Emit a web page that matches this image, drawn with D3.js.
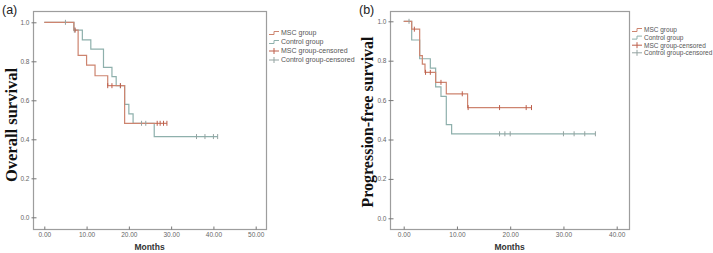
<!DOCTYPE html>
<html>
<head>
<meta charset="utf-8">
<script src="https://cdn.jsdelivr.net/npm/d3@7"></script>
<style>
  body { margin: 0; background: #fff; }
  svg { display: block; }
</style>
</head>
<body>
<div class="canvas"></div>
<script>
// tick labels
const survTicks = [0, 0.2, 0.4, 0.6, 0.8, 1.0];
const osMonthTicks = [0, 10, 20, 30, 40, 50];
const pfsMonthTicks = [0, 10, 20, 30, 40];
const legendLabels = ['MSC group', 'Control group', 'MSC group-censored', 'Control group-censored'];

// (a) overall survival, step times + survival after each step
const osMscTimes = [0, 7, 8, 10, 12, 15, 19];
const osMscSurv = [1, 0.96, 0.83, 0.78, 0.726, 0.675, 0.482];
const osMscEnd = 29;
const osMscCensor = [7.3, 15, 16, 18, 26.7, 27.4, 28.2, 29];

const osCtrlTimes = [0, 7, 9, 11, 14, 16, 17, 19, 20, 21, 26];
const osCtrlSurv = [1, 0.96, 0.91, 0.862, 0.769, 0.721, 0.675, 0.579, 0.53, 0.482, 0.414];
const osCtrlEnd = 41;
const osCtrlCensor = [5, 7.1, 18, 23, 24, 36, 38, 40, 41];

// (b) progression-free survival
const pfsMscTimes = [0, 1.5, 3, 3.5, 4, 6, 8, 12];
const pfsMscSurv = [1, 0.96, 0.826, 0.783, 0.741, 0.69, 0.632, 0.562];
const pfsMscEnd = 24;
const pfsMscCensor = [2, 4.1, 5, 7, 11, 12.1, 18, 23, 24];

const pfsCtrlTimes = [0, 1.5, 3, 5, 6, 7, 8, 9];
const pfsCtrlSurv = [1, 0.905, 0.81, 0.762, 0.667, 0.619, 0.476, 0.429];
const pfsCtrlEnd = 36;
const pfsCtrlCensor = [1, 18, 19, 20, 30, 32, 34, 36];

const mscColor = '#cd846f';
const ctrlColor = '#8eb0ac';
const mscMark = '#bd5e4b';
const ctrlMark = '#94a3a1';
const frameColor = '#9d9d9d';

const svg = d3.select('.canvas')
    .append('svg')
    .attr('width', 713)
    .attr('height', 253);

// survival value at time t for a step curve
const survAt = (times, surv, t) => {
    let s = surv[0];
    times.forEach((tt, i) => { if (tt <= t) s = surv[i]; });
    return s;
};

const drawPanel = p => {
    const g = svg.append('g');

    const x = d3.scaleLinear().domain([0, p.xMax]).range([p.x0, p.x1]);
    const y = d3.scaleLinear().domain([0, 1]).range([p.y0, p.y1]);

    // frame
    g.append('rect')
        .attr('x', p.left + 0.5).attr('y', p.top + 0.5)
        .attr('width', p.right - p.left).attr('height', p.bottom - p.top)
        .attr('fill', 'none').attr('stroke', frameColor).attr('stroke-width', 1.2);

    // axes
    const yAxis = d3.axisLeft(y).tickValues(survTicks).tickFormat(d3.format('.1f'))
        .tickSize(3).tickSizeOuter(0).tickPadding(1);
    const xAxis = d3.axisBottom(x).tickValues(p.xTicks).tickFormat(d3.format('.2f'))
        .tickSize(-3).tickSizeOuter(0).tickPadding(3);

    const yAxisGroup = g.append('g').attr('transform', `translate(${p.left + 0.5}, 0)`).call(yAxis);
    const xAxisGroup = g.append('g').attr('transform', `translate(0, ${p.bottom + 0.5})`).call(xAxis);

    [yAxisGroup, xAxisGroup].forEach(a => {
        a.select('.domain').remove();
        a.selectAll('line').attr('stroke', '#777');
        a.selectAll('text').attr('fill', '#666').style('font-family', 'Arial, "Liberation Sans", sans-serif')
            .style('font-size', '6.5px');
    });
    yAxisGroup.selectAll('line').attr('x2', 3).attr('x1', -2);

    // step curves
    const stepLine = d3.line().x(d => x(d[0])).y(d => y(d[1])).curve(d3.curveStepAfter);
    p.curves.forEach(c => {
        const pts = c.times.map((t, i) => [t, c.surv[i]]);
        pts.push([c.end, c.surv[c.surv.length - 1]]);
        g.append('path')
            .attr('d', stepLine(pts))
            .attr('fill', 'none')
            .attr('stroke', c.color)
            .attr('stroke-width', 1.2);
    });

    // censor marks
    p.curves.forEach(c => {
        g.selectAll(null)
            .data(c.censor)
            .enter()
            .append('line')
            .attr('x1', d => x(d)).attr('x2', d => x(d))
            .attr('y1', d => y(survAt(c.times, c.surv, d)) - 2.5)
            .attr('y2', d => y(survAt(c.times, c.surv, d)) + 2.5)
            .attr('stroke', c.mark)
            .attr('stroke-width', 1);
    });

    // panel letter
    g.append('text')
        .attr('x', p.letterX).attr('y', 14)
        .style('font-family', 'Arial, "Liberation Sans", sans-serif')
        .style('font-size', '12.5px')
        .attr('fill', '#222')
        .text(p.letter);

    // y title
    g.append('text')
        .attr('transform', `translate(${p.titleX}, ${p.titleY}) rotate(-90)`)
        .attr('text-anchor', 'middle')
        .style('font-family', '"Liberation Serif", "Times New Roman", serif')
        .style('font-weight', 'bold')
        .style('font-size', p.titleFont)
        .attr('fill', '#111')
        .text(p.title);

    // x title
    g.append('text')
        .attr('x', (p.left + p.right) / 2).attr('y', 250)
        .attr('text-anchor', 'middle')
        .style('font-family', 'Arial, "Liberation Sans", sans-serif')
        .style('font-weight', 'bold')
        .style('font-size', '8.5px')
        .attr('fill', '#333')
        .text('Months');

    // legend
    const lg = g.append('g');
    const colors = [mscColor, ctrlColor, mscMark, ctrlMark];
    legendLabels.forEach((lab, i) => {
        const ly = p.legY + i * p.legGap;
        const lx = p.legX;
        if (i < 2) {
            lg.append('path')
                .attr('d', `M${lx},${ly + 1.5}H${lx + 5}V${ly - 1.5}H${lx + 10}`)
                .attr('fill', 'none').attr('stroke', colors[i]).attr('stroke-width', 1);
        } else {
            lg.append('path')
                .attr('d', `M${lx},${ly}H${lx + 10}M${lx + 5},${ly - 3}V${ly + 3}`)
                .attr('fill', 'none').attr('stroke', colors[i]).attr('stroke-width', 1);
        }
        lg.append('text')
            .attr('x', lx + 12).attr('y', ly + 2.3)
            .style('font-family', 'Arial, "Liberation Sans", sans-serif')
            .style('font-size', p.legFont)
            .attr('fill', '#555')
            .text(lab);
    });
};

drawPanel({
    letter: '(a)', letterX: 2,
    title: 'Overall survival', titleX: 17, titleY: 125, titleFont: '16.5px',
    left: 33, right: 266, top: 11, bottom: 229,
    x0: 44.3, x1: 255.7, y0: 217.3, y1: 22.3,
    xMax: 50, xTicks: osMonthTicks,
    legX: 269, legY: 33, legGap: 9, legFont: '7px',
    curves: [
        {times: osCtrlTimes, surv: osCtrlSurv, end: osCtrlEnd, censor: osCtrlCensor, color: ctrlColor, mark: ctrlMark},
        {times: osMscTimes, surv: osMscSurv, end: osMscEnd, censor: osMscCensor, color: mscColor, mark: mscMark}
    ]
});

drawPanel({
    letter: '(b)', letterX: 359,
    title: 'Progression-free survival', titleX: 373, titleY: 122, titleFont: '16px',
    left: 390, right: 629, top: 11, bottom: 229,
    x0: 403.7, x1: 616.7, y0: 218.3, y1: 21.3,
    xMax: 40, xTicks: pfsMonthTicks,
    legX: 632, legY: 30, legGap: 7.6, legFont: '6.5px',
    curves: [
        {times: pfsCtrlTimes, surv: pfsCtrlSurv, end: pfsCtrlEnd, censor: pfsCtrlCensor, color: ctrlColor, mark: ctrlMark},
        {times: pfsMscTimes, surv: pfsMscSurv, end: pfsMscEnd, censor: pfsMscCensor, color: mscColor, mark: mscMark}
    ]
});
</script>
</body>
</html>
